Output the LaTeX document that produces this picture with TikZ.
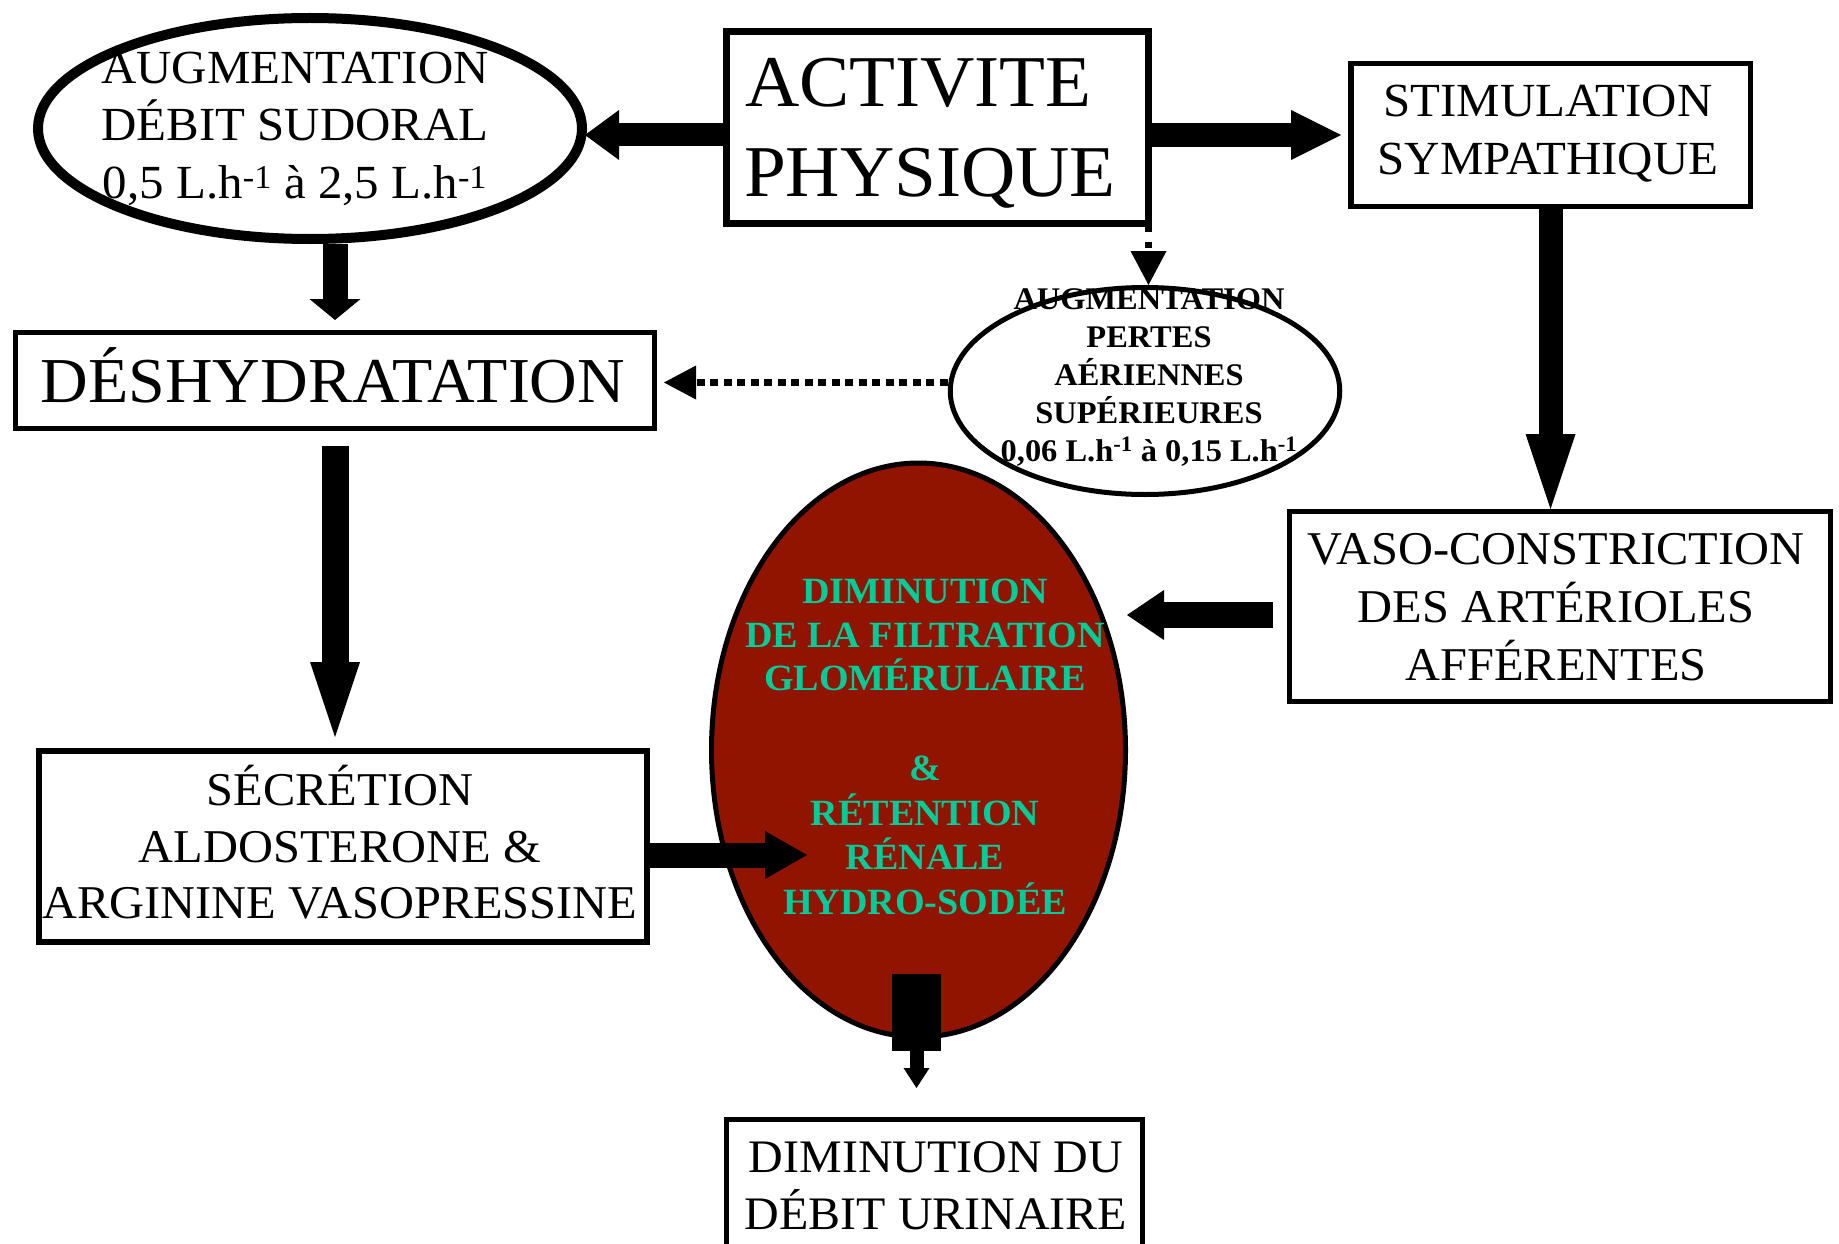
\documentclass[tikz,border=0pt]{standalone}
\usepackage{fontspec}
\setmainfont{Liberation Serif}[FakeStretch=1.03]
\usetikzlibrary{arrows.meta,calc,shapes.geometric}
\definecolor{kidney}{RGB}{145,20,0}
\definecolor{tealtxt}{RGB}{0,204,153}
\tikzset{
  lbl/.style={inner sep=0pt,outer sep=0pt,anchor=base},
  rgA/.style={font=\fontsize{47.5pt}{57pt}\selectfont},
  rgB/.style={font=\fontsize{47pt}{57pt}\selectfont},
  rgC/.style={font=\fontsize{47pt}{57pt}\selectfont},
  rgD/.style={font=\fontsize{46.6pt}{57pt}\selectfont},
  rgBig/.style={font=\fontsize{73pt}{89pt}\selectfont},
  rgDesh/.style={font=\fontsize{64pt}{70pt}\selectfont},
  bdS/.style={font=\fontsize{31.5pt}{38pt}\selectfont\bfseries},
  bdR/.style={font=\fontsize{37pt}{44pt}\selectfont\bfseries,text=tealtxt},
  boxnode/.style={draw=black,rectangle,inner sep=0pt},
  ellnode/.style={draw=black,ellipse,inner sep=0pt},
  blk/.style n args={3}{draw=black,line width=#1,-{Triangle[length=#2,width=#3,line width=0pt]}},
  dotblk/.style n args={4}{draw=black,line width=#1,dash pattern=#2,-{Triangle[length=#3,width=#4,line width=0pt]}},
}
\begin{document}
\begin{tikzpicture}[x=1pt,y=-1pt]
\fill[white] (0,0) rectangle (1839,1244);
\useasboundingbox (0,0) rectangle (1839,1244);

% ---------- shapes ----------
\node[ellnode,line width=10pt,minimum width=544pt,minimum height=221pt] (sud) at (310,128.5) {};
\node[boxnode,line width=7pt,minimum width=422pt,minimum height=192pt] (act) at (937.5,127.5) {};
\node[boxnode,line width=5.5pt,minimum width=399.5pt,minimum height=142.5pt] (stim) at (1550.5,135) {};
\node[boxnode,line width=5pt,minimum width=639pt,minimum height=96pt] (desh) at (335,380.5) {};
\node[boxnode,line width=5pt,minimum width=541pt,minimum height=190pt] (vaso) at (1560,606.5) {};
\node[ellnode,fill=kidney,line width=5pt,minimum width=414pt,minimum height=574pt] (red) at (918.5,750) {};
\node[boxnode,line width=6pt,minimum width=608pt,minimum height=191pt] (secr) at (343,846.5) {};
\node[boxnode,line width=5pt,minimum width=416pt,minimum height=200pt] (dimdu) at (934.5,1219.5) {};

% ---------- texts ----------
\node[lbl,rgA] (sudA) at (295,84) {AUGMENTATION};
\node[lbl,rgA] (sudB) at (295,141) {DÉBIT SUDORAL};
\node[lbl,rgA] (sudC) at (295,198) {0,5 L.h\textsuperscript{-1} à 2,5 L.h\textsuperscript{-1}};

\node[lbl,rgBig,anchor=base west] (actA) at (745,107) {ACTIVITE};
\node[lbl,rgBig,anchor=base west] (actB) at (744,196) {PHYSIQUE};

\node[lbl,rgA] (stimA) at (1548,117) {STIMULATION};
\node[lbl,rgA] (stimB) at (1548,175) {SYMPATHIQUE};

\node[lbl,rgDesh] (deshA) at (333,402) {DÉSHYDRATATION};

\node[lbl,bdS] (perA) at (1149,309) {AUGMENTATION};
\node[lbl,bdS] (perB) at (1149,347) {PERTES};
\node[lbl,bdS] (perC) at (1149,385) {AÉRIENNES};
\node[lbl,bdS] (perD) at (1149,423) {SUPÉRIEURES};
\node[lbl,bdS] (perE) at (1149,461) {0,06 L.h\textsuperscript{-1} à 0,15 L.h\textsuperscript{-1}};
\node[ellnode,line width=5pt,minimum width=389.5pt,minimum height=207pt] (perte) at (1145,391) {};

\node[lbl,rgB] (vasoA) at (1556,564) {VASO-CONSTRICTION};
\node[lbl,rgB] (vasoB) at (1556,622) {DES ARTÉRIOLES};
\node[lbl,rgB] (vasoC) at (1556,680) {AFFÉRENTES};

\node[lbl,bdR] (redA) at (925,603) {DIMINUTION};
\node[lbl,bdR] (redB) at (925,647) {DE LA FILTRATION};
\node[lbl,bdR] (redC) at (925,690) {GLOMÉRULAIRE};
\node[lbl,bdR] (redD) at (925,780) {\&};
\node[lbl,bdR] (redE) at (925,825) {RÉTENTION};
\node[lbl,bdR] (redF) at (925,869) {RÉNALE};
\node[lbl,bdR] (redG) at (925,914) {HYDRO-SODÉE};

\node[lbl,rgC] (secrA) at (340,805) {SÉCRÉTION};
\node[lbl,rgC] (secrB) at (340,862) {ALDOSTERONE \&};
\node[lbl,rgC] (secrC) at (340,918) {ARGININE VASOPRESSINE};

\node[lbl,rgD] (dimA) at (936,1172) {DIMINUTION DU};
\node[lbl,rgD] (dimB) at (936,1229) {DÉBIT URINAIRE};

% ---------- connectors ----------
\draw[blk={23pt}{34pt}{50pt}] ($(act.west)+(0,7.5)$) -- ($(sud.east)+(-2,6.5)$);
\draw[blk={24pt}{50pt}{50pt}] ($(act.east)+(0,7.5)$) -- ($(stim.west)+(-7,0)$);
\draw[blk={25pt}{21pt}{51pt}] (desh.north |- sud.south) -- ($(desh.north)+(0,-10)$);
\draw[blk={27pt}{75pt}{50pt}] ($(desh.south)+(0,15)$) -- ($(desh.south |- secr.north)+(0,-11)$);
\draw[blk={25pt}{42pt}{48pt}] ($(secr.east)+(0,8.5)$) -- ($(secr.east)+(157,8.5)$);
\draw[blk={24pt}{75pt}{50pt}] (stim.south) -- (stim.south |- vaso.north);
\draw[blk={26pt}{37pt}{50pt}] ($(vaso.west)+(-14,8.5)$) -- ($(red.east |- vaso.west)+(-1,8.5)$);
\draw[line width=49pt] ($(red.south)+(-2,-65.5)$) -- ($(red.south)+(-2,11.5)$);
\draw[blk={14pt}{20pt}{26pt}] ($(red.south)+(-2,11)$) -- ($(dimdu.north -| red.south)+(-2,-29)$);

\draw[dotblk={7pt}{on 8pt off 10pt on 6pt off 20pt}{34pt}{36pt}] ($(act.south east)+(-3.5,-3.5)$) -- ($(act.south east |- perte.north)+(-3.5,0)$);
\draw[dotblk={7.5pt}{on 8pt off 5.5pt}{32pt}{34pt}] ($(perte.west)+(0,-8.5)$) -- ($(desh.east |- perte.west)+(7,-8.5)$);
\end{tikzpicture}
\end{document}
